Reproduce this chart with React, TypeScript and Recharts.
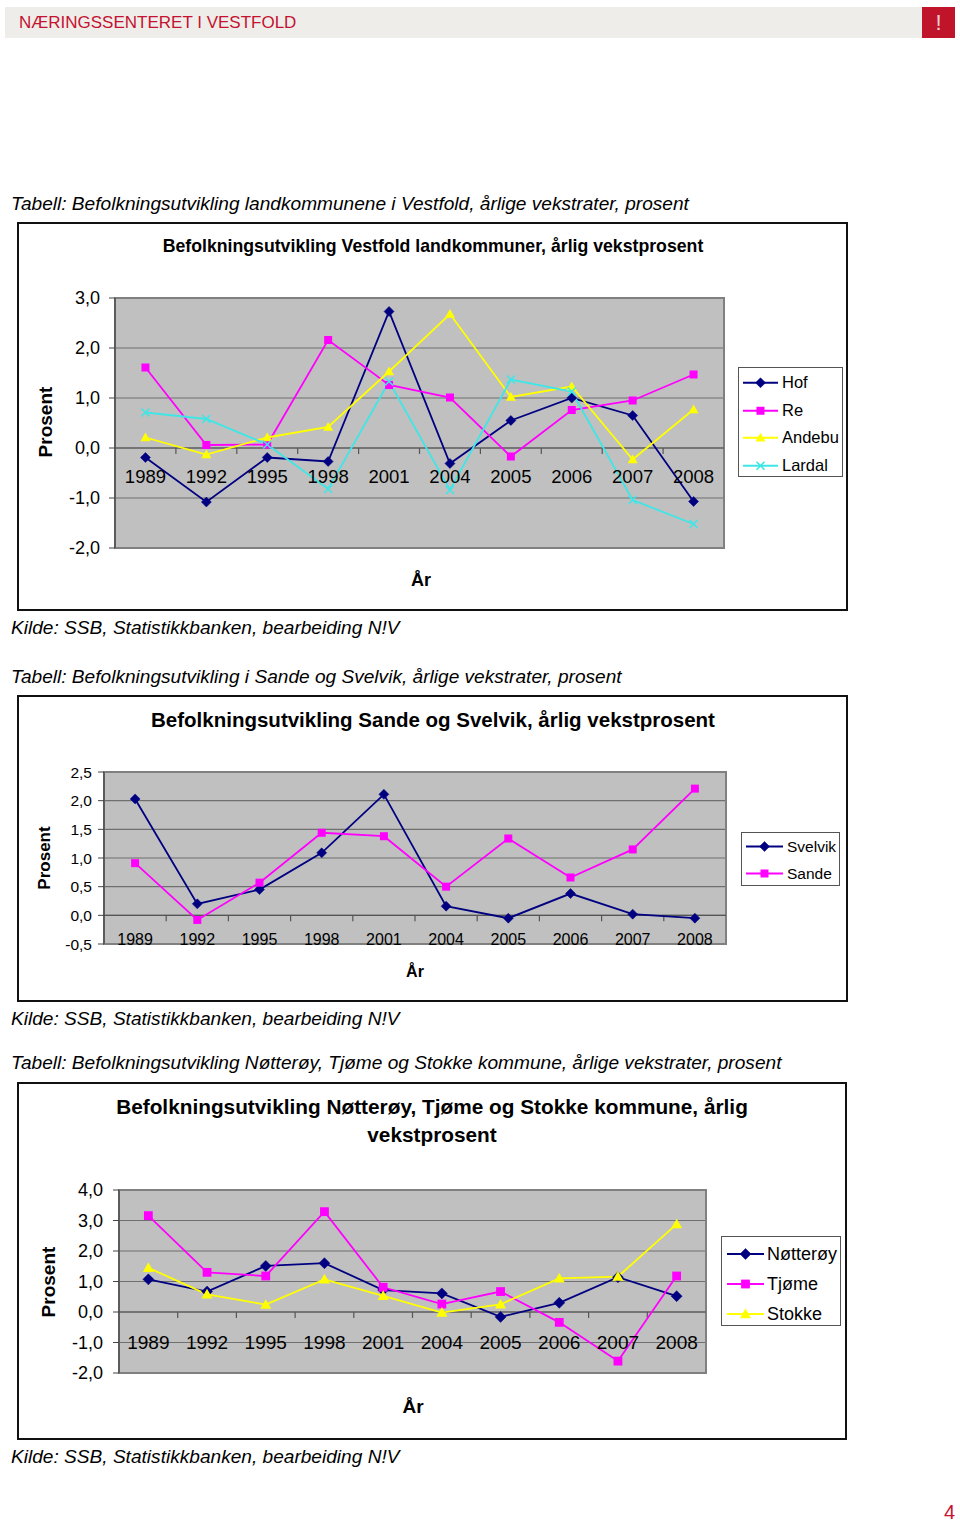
import React from 'react';
import { LineChart, Line, XAxis, YAxis, CartesianGrid, ReferenceLine, ReferenceDot, ReferenceArea, Legend } from 'recharts';

const years = ['1989', '1992', '1995', '1998', '2001', '2004', '2005', '2006', '2007', '2008'];

// Chart 1: landkommuner
const hof = [-0.19, -1.08, -0.19, -0.27, 2.73, -0.31, 0.55, 1.0, 0.65, -1.07];
const re = [1.61, 0.06, 0.07, 2.16, 1.26, 1.01, -0.17, 0.76, 0.95, 1.47];
const andebu = [0.21, -0.13, 0.21, 0.42, 1.53, 2.68, 1.02, 1.23, -0.23, 0.77];
const lardal = [0.71, 0.58, 0.07, -0.82, 1.33, -0.84, 1.37, 1.13, -1.04, -1.52];

// Chart 2: Sande og Svelvik
const svelvik = [2.03, 0.2, 0.45, 1.09, 2.11, 0.16, -0.05, 0.38, 0.02, -0.05];
const sande = [0.91, -0.08, 0.57, 1.44, 1.38, 0.5, 1.34, 0.66, 1.15, 2.21];

// Chart 3: Nøtterøy, Tjøme, Stokke
const notteroy = [1.07, 0.67, 1.51, 1.6, 0.72, 0.61, -0.16, 0.3, 1.14, 0.52];
const tjome = [3.16, 1.3, 1.18, 3.29, 0.81, 0.26, 0.67, -0.34, -1.61, 1.18];
const stokke = [1.45, 0.58, 0.24, 1.07, 0.53, -0.02, 0.25, 1.1, 1.16, 2.88];

const yTicks1 = [-2, -1, 0, 1, 2, 3];
const yTicks2 = [-0.5, 0, 0.5, 1, 1.5, 2, 2.5];
const yTicks3 = [-2, -1, 0, 1, 2, 3, 4];

const NAVY = '#000080';
const MAGENTA = '#FF00FF';
const YELLOW = '#FFFF00';
const CYAN = '#3FE6E6';
const FONT = '"Liberation Sans", Arial, Helvetica, sans-serif';

type Kind = 'diamond' | 'square' | 'triangle' | 'x';
type Series = { name: string; values: number[]; color: string; kind: Kind };

const Marker = ({ kind, cx, cy, color, s }: { kind: Kind; cx: number; cy: number; color: string; s: number }) => {
  if (kind === 'diamond') {
    return <path d={`M${cx},${cy - s} L${cx + s},${cy} L${cx},${cy + s} L${cx - s},${cy} Z`} fill={color} stroke={color} strokeWidth={0.5} />;
  }
  if (kind === 'square') {
    const h = s * 0.8;
    return <rect x={cx - h} y={cy - h} width={2 * h} height={2 * h} fill={color} />;
  }
  if (kind === 'triangle') {
    return <path d={`M${cx},${cy - s} L${cx + s},${cy + s * 0.75} L${cx - s},${cy + s * 0.75} Z`} fill={color} />;
  }
  const h = s * 0.8;
  return (
    <g stroke={color} strokeWidth={1.6}>
      <line x1={cx - h} y1={cy - h} x2={cx + h} y2={cy + h} />
      <line x1={cx - h} y1={cy + h} x2={cx + h} y2={cy - h} />
    </g>
  );
};

const fmt = (v: number) => v.toFixed(1).replace('.', ',');

type Cfg = {
  left: number; top: number; width: number; height: number;
  margin: { top: number; right: number; bottom: number; left: number };
  yDomain: [number, number]; yTicks: number[];
  tickFont: number; xFont: number; xLabelDy: number; tickDown: number; yTickMargin: number;
  series: Series[]; markerSize: number;
  legend: { left: number; top: number; width: number; height: number; first: number; rowH: number; font: number; lineX1: number; lineX2: number; textX: number };
};

const ChartBlock = ({ cfg }: { cfg: Cfg }) => {
  const data = years.map((y, i) => {
    const row: any = { i, year: y };
    cfg.series.forEach((s) => { row[s.name] = s.values[i]; });
    return row;
  });
  const lg = cfg.legend;
  const legendContent = () => (
    <div style={{ position: 'relative', width: lg.width, height: lg.height, boxSizing: 'border-box', border: '1px solid #555', background: '#fff', fontFamily: FONT }}>
      {cfg.series.map((s, k) => (
        <div key={s.name} style={{ position: 'absolute', left: 0, top: lg.first + k * lg.rowH - lg.rowH / 2, height: lg.rowH, width: lg.width }}>
          <svg width={lg.textX} height={lg.rowH} style={{ position: 'absolute', left: 0, top: 0 }}>
            <line x1={lg.lineX1} x2={lg.lineX2} y1={lg.rowH / 2} y2={lg.rowH / 2} stroke={s.color} strokeWidth={2} />
            <Marker kind={s.kind} cx={(lg.lineX1 + lg.lineX2) / 2} cy={lg.rowH / 2} color={s.color} s={cfg.markerSize} />
          </svg>
          <div style={{ position: 'absolute', left: lg.textX, top: 0, height: lg.rowH, lineHeight: `${lg.rowH}px`, fontSize: lg.font, color: '#000', whiteSpace: 'nowrap' }}>{s.name}</div>
        </div>
      ))}
    </div>
  );
  const span = cfg.yDomain[1] - cfg.yDomain[0];
  const plotH = cfg.height - cfg.margin.top - cfg.margin.bottom;
  const perPx = span / plotH;
  // the legend reserves its own width on the right; subtract it so the plot keeps its place
  const margin = { ...cfg.margin, right: cfg.margin.right - lg.width };
  return (
    <div style={{ position: 'absolute', left: cfg.left, top: cfg.top, width: cfg.width, height: cfg.height }}>
      <LineChart width={cfg.width} height={cfg.height} data={data} margin={margin}>
        <CartesianGrid vertical={false} fill="#C0C0C0" stroke="#6F6F6F" strokeWidth={1.2} />
        <ReferenceArea x1={-0.5} x2={9.5} y1={cfg.yDomain[0]} y2={cfg.yDomain[1]} fill="none" fillOpacity={0} stroke="#808080" strokeWidth={2} />
        <XAxis dataKey="i" type="number" domain={[-0.5, 9.5]} hide />
        <YAxis
          domain={cfg.yDomain}
          ticks={cfg.yTicks}
          interval={0}
          width={60}
          tickFormatter={fmt}
          tick={{ fontSize: cfg.tickFont, fill: '#000', fontFamily: FONT }}
          tickSize={6}
          tickMargin={cfg.yTickMargin}
          stroke="#444"
          axisLine={{ stroke: '#444', strokeWidth: 1.2 }}
          tickLine={{ stroke: '#444' }}
        />
        <ReferenceLine y={0} stroke="#555" strokeWidth={1.2} />
        {years.slice(0, 9).map((_, k) => (
          <ReferenceLine key={`t${k}`} segment={[{ x: k + 0.5, y: 0 }, { x: k + 0.5, y: -cfg.tickDown * perPx }]} stroke="#555" strokeWidth={1.2} />
        ))}
        {years.map((y, k) => (
          <ReferenceDot
            key={`l${k}`}
            x={k}
            y={0}
            r={0}
            shape={(p: any) => (
              <text x={p.cx} y={p.cy + cfg.xLabelDy} textAnchor="middle" dominantBaseline="central" fontSize={cfg.xFont} fontFamily={FONT} fill="#000">{y}</text>
            )}
          />
        ))}
        {cfg.series.map((s) => (
          <Line
            key={s.name}
            name={s.name}
            dataKey={s.name}
            type="linear"
            stroke={s.color}
            strokeWidth={1.8}
            isAnimationActive={false}
            dot={(p: any) => (p.cx == null ? <g key={p.index} /> : <Marker key={p.index} kind={s.kind} cx={p.cx} cy={p.cy} color={s.color} s={cfg.markerSize} />)}
            activeDot={false}
          />
        ))}
        <Legend layout="horizontal" verticalAlign="middle" align="right" content={legendContent} wrapperStyle={{ left: lg.left, top: lg.top, width: lg.width, height: lg.height, right: 'auto', bottom: 'auto' }} />
      </LineChart>
    </div>
  );
};

const cfg1: Cfg = {
  left: 17, top: 222, width: 831, height: 389,
  margin: { top: 76, right: 124, bottom: 63, left: 38 },
  yDomain: [-2, 3], yTicks: yTicks1, tickFont: 18, xFont: 18.5, xLabelDy: 28, tickDown: 6, yTickMargin: 9,
  series: [
    { name: 'Hof', values: hof, color: NAVY, kind: 'diamond' },
    { name: 'Re', values: re, color: MAGENTA, kind: 'square' },
    { name: 'Andebu', values: andebu, color: YELLOW, kind: 'triangle' },
    { name: 'Lardal', values: lardal, color: CYAN, kind: 'x' },
  ],
  markerSize: 5,
  legend: { left: 721, top: 145, width: 105, height: 110, first: 15, rowH: 27.5, font: 16.5, lineX1: 4, lineX2: 39, textX: 43 },
};

const cfg2: Cfg = {
  left: 17, top: 695, width: 831, height: 307,
  margin: { top: 77, right: 122, bottom: 58, left: 27 },
  yDomain: [-0.5, 2.5], yTicks: yTicks2, tickFont: 15.5, xFont: 16, xLabelDy: 24, tickDown: 6, yTickMargin: 6,
  series: [
    { name: 'Svelvik', values: svelvik, color: NAVY, kind: 'diamond' },
    { name: 'Sande', values: sande, color: MAGENTA, kind: 'square' },
  ],
  markerSize: 5,
  legend: { left: 724, top: 137, width: 99, height: 54, first: 13.5, rowH: 27, font: 15.5, lineX1: 4, lineX2: 41, textX: 45 },
};

const cfg3: Cfg = {
  left: 17, top: 1082, width: 830, height: 358,
  margin: { top: 108, right: 141, bottom: 67, left: 42 },
  yDomain: [-2, 4], yTicks: yTicks3, tickFont: 18, xFont: 19, xLabelDy: 30, tickDown: 6, yTickMargin: 10,
  series: [
    { name: 'Nøtterøy', values: notteroy, color: NAVY, kind: 'diamond' },
    { name: 'Tjøme', values: tjome, color: MAGENTA, kind: 'square' },
    { name: 'Stokke', values: stokke, color: YELLOW, kind: 'triangle' },
  ],
  markerSize: 5.5,
  legend: { left: 704, top: 154, width: 120, height: 90, first: 17, rowH: 30, font: 18, lineX1: 5, lineX2: 42, textX: 45 },
};

const T = ({ x, y, size, children, italic, bold, center, color }: any) => (
  <div style={{
    position: 'absolute', left: x, top: y, fontSize: size, lineHeight: 1.15, whiteSpace: 'nowrap',
    transform: center ? 'translate(-50%, -50%)' : 'translateY(-50%)',
    fontStyle: italic ? 'italic' : 'normal', fontWeight: bold ? 700 : 400, color: color || '#000', fontFamily: FONT,
    textAlign: 'center',
  }}>{children}</div>
);

const Rot = ({ x, y, size, children }: any) => (
  <div style={{
    position: 'absolute', left: x, top: y, fontSize: size, lineHeight: 1, whiteSpace: 'nowrap', fontWeight: 700,
    transform: 'translate(-50%, -50%) rotate(-90deg)', fontFamily: FONT, color: '#000',
  }}>{children}</div>
);

const Frame = ({ x, y, w, h }: any) => (
  <div style={{ position: 'absolute', left: x, top: y, width: w, height: h, boxSizing: 'border-box', border: '2px solid #111', background: '#fff' }} />
);

const CAP = 19.1;

export default function App() {
  return (
    <div style={{ position: 'absolute', left: 0, top: 0, width: 960, height: 1524, background: '#fff', overflow: 'hidden', fontFamily: FONT }}>
      {/* header */}
      <div style={{ position: 'absolute', left: 5, top: 7, width: 950, height: 31, background: '#EFEDE9' }} />
      <div style={{ position: 'absolute', left: 19, top: 7, height: 31, lineHeight: '31px', fontSize: 17, color: '#C41230', fontFamily: FONT }}>NÆRINGSSENTERET I VESTFOLD</div>
      <div style={{ position: 'absolute', left: 922, top: 7, width: 33, height: 31, background: '#C0142B', color: '#F6D0D4', fontSize: 22, lineHeight: '31px', textAlign: 'center', fontFamily: FONT }}>!</div>

      {/* chart 1 */}
      <T x={11} y={204} size={CAP} italic>Tabell: Befolkningsutvikling landkommunene i Vestfold, årlige vekstrater, prosent</T>
      <Frame x={17} y={222} w={831} h={389} />
      <ChartBlock cfg={cfg1} />
      <T x={433} y={246} size={17.7} bold center>Befolkningsutvikling Vestfold landkommuner, årlig vekstprosent</T>
      <Rot x={45} y={422} size={19}>Prosent</Rot>
      <T x={421} y={580} size={18} bold center>År</T>
      <T x={11} y={628} size={CAP} italic>Kilde: SSB, Statistikkbanken, bearbeiding N!V</T>

      {/* chart 2 */}
      <T x={11} y={677} size={CAP} italic>Tabell: Befolkningsutvikling i Sande og Svelvik, årlige vekstrater, prosent</T>
      <Frame x={17} y={695} w={831} h={307} />
      <ChartBlock cfg={cfg2} />
      <T x={433} y={720} size={20.5} bold center>Befolkningsutvikling Sande og Svelvik, årlig vekstprosent</T>
      <Rot x={44} y={858} size={17}>Prosent</Rot>
      <T x={415} y={972} size={16} bold center>År</T>
      <T x={11} y={1019} size={CAP} italic>Kilde: SSB, Statistikkbanken, bearbeiding N!V</T>

      {/* chart 3 */}
      <T x={11} y={1063} size={CAP} italic>Tabell: Befolkningsutvikling Nøtterøy, Tjøme og Stokke kommune, årlige vekstrater, prosent</T>
      <Frame x={17} y={1082} w={830} h={358} />
      <ChartBlock cfg={cfg3} />
      <T x={432} y={1107} size={20.8} bold center>Befolkningsutvikling Nøtterøy, Tjøme og Stokke kommune, årlig</T>
      <T x={432} y={1135} size={20.8} bold center>vekstprosent</T>
      <Rot x={48} y={1282} size={19}>Prosent</Rot>
      <T x={413} y={1407} size={19} bold center>År</T>
      <T x={11} y={1457} size={CAP} italic>Kilde: SSB, Statistikkbanken, bearbeiding N!V</T>

      <T x={944} y={1512} size={20} color="#C41230">4</T>
    </div>
  );
}
